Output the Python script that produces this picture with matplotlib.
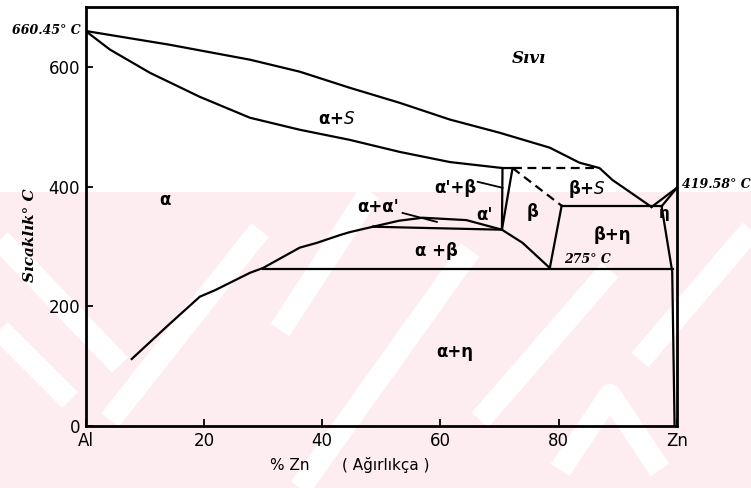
import matplotlib
matplotlib.use("Agg")
import matplotlib.pyplot as plt

# Al-Zn phase diagram, boundaries (wt% Zn, deg C)
liq_x = [0, 14.2, 27.8, 36.2, 44.7, 53.1, 61.6, 70.0, 78.5, 83.5, 86.9, 89.1, 95.7]
liq_t = [660, 637, 612, 592, 565, 540, 512, 490, 465, 440, 431, 411, 366]

sol_x = [0, 4.1, 10.9, 19.3, 27.8, 36.2, 44.7, 53.1, 61.6, 70.5, 72.2]
sol_t = [660, 629, 590, 550, 515, 495, 478, 458, 441, 431, 431]

solv_x = [7.8, 13.7, 19.3, 21.9, 27.8, 30.0, 36.2, 39.1, 43.0, 44.7, 48.6]
solv_t = [112, 166, 216, 227, 256, 264, 298, 306, 319, 324, 333]

dome_up_x = [48.6, 53.0, 57.0, 64.4, 70.4]
dome_up_t = [333, 343, 348, 344, 328]
dome_lo_x = [48.6, 57.0, 70.4]
dome_lo_t = [333, 331, 328]

a1_x, a1_t = [70.5, 70.4], [431, 328]
a2_x, a2_t = [72.2, 70.4], [431, 328]
beta_l_x, beta_l_t = [70.4, 73.9, 78.5], [328, 306, 264]
beta_r_x, beta_r_t = [80.5, 78.5], [368, 264]
dash_d_x, dash_d_t = [72.2, 80.5], [431, 368]
dash_h_x, dash_h_t = [72.2, 86.9], [431, 431]
eut_x, eut_t = [80.5, 97.4], [367, 367]
zn_liq_x, zn_liq_t = [95.7, 100], [366, 398]
zn_sol_x, zn_sol_t = [97.4, 100], [367, 398]
eta_x, eta_t = [97.4, 99.2, 99.6], [367, 258, 0]
eutd_x, eutd_t = [30.0, 99.3], [263, 263]
ptr1_x, ptr1_t = [53.6, 59.4], [356, 341]
ptr2_x, ptr2_t = [66.3, 70.5], [408, 398]

xticks = [0, 20, 40, 60, 80, 100]
xticklabels = ['Al', '20', '40', '60', '80', 'Zn']
yticks = [0, 200, 400, 600]

fig = plt.figure(figsize=(7.51, 4.88), dpi=100)

# faint pink watermark of the scan
bg = fig.add_axes([0, 0, 1, 1], zorder=0)
bg.set_xlim(0, 751)
bg.set_ylim(488, 0)
bg.axis('off')
rect = plt.Rectangle((0, 192), 751, 296, color='#feedf0', lw=0)
bg.add_patch(rect)
bands = [[(0, 240), (120, 365)], [(0, 330), (70, 400)], [(110, 420), (260, 230)],
         [(280, 330), (370, 192)], [(300, 488), (470, 250)], [(480, 420), (610, 270)],
         [(640, 360), (751, 230)], [(560, 470), (610, 395), (660, 470)]]
for b in bands:
    ln, = bg.plot([p[0] for p in b], [p[1] for p in b], color='white', lw=16,
                  solid_capstyle='butt')
    ln.set_clip_path(rect)

ax = fig.add_axes([0.114, 0.127, 0.7874, 0.8586], zorder=1)
ax.patch.set_alpha(0)

lk = dict(color='black', lw=1.6)
ax.plot(liq_x, liq_t, **lk)
ax.plot(sol_x, sol_t, **lk)
ax.plot(solv_x, solv_t, **lk)
ax.plot(dome_up_x, dome_up_t, **lk)
ax.plot(dome_lo_x, dome_lo_t, **lk)
ax.plot(a1_x, a1_t, **lk)
ax.plot(a2_x, a2_t, **lk)
ax.plot(beta_l_x, beta_l_t, **lk)
ax.plot(beta_r_x, beta_r_t, **lk)
ax.plot(dash_d_x, dash_d_t, color='black', lw=1.6, ls=(0, (4, 2.5)))
ax.plot(dash_h_x, dash_h_t, color='black', lw=1.6, ls=(0, (4, 2.5)))
ax.plot(eut_x, eut_t, **lk)
ax.plot(zn_liq_x, zn_liq_t, **lk)
ax.plot(zn_sol_x, zn_sol_t, **lk)
ax.plot(eta_x, eta_t, **lk)
ax.plot(eutd_x, eutd_t, **lk)
ax.plot(ptr1_x, ptr1_t, color='black', lw=1.3)
ax.plot(ptr2_x, ptr2_t, color='black', lw=1.3)

ax.set_xlim(0, 100)
ax.set_ylim(0, 700)
for s in ax.spines.values():
    s.set_linewidth(2)
ax.set_xticks(xticks)
ax.set_xticklabels(xticklabels)
ax.set_yticks(yticks)
ax.tick_params(direction='in', length=5, width=1.3, labelsize=12, pad=4)

# region labels
lab = dict(fontsize=12, ha='center', va='center', fontweight='bold')
ax.text(13.4, 378, 'α', **lab)
ax.text(42.5, 513, 'α+$S$', **lab)
ax.text(62.6, 398, "α'+β", **lab)
ax.text(49.4, 366, "α+α'", **lab)
ax.text(67.5, 353, "α'", **lab)
ax.text(75.6, 358, 'β', **lab)
ax.text(84.7, 396, 'β+$S$', **lab)
ax.text(89.0, 319, 'β+η', **lab)
ax.text(97.9, 355, 'η', fontsize=11, ha='center', va='center', fontweight='bold')
ax.text(59.4, 293, 'α +β', **lab)
ax.text(62.4, 124, 'α+η', **lab)
ax.text(74.9, 614, 'Sıvı', fontsize=12, ha='center', va='center',
        family='DejaVu Serif', fontweight='bold', fontstyle='italic')

tk = dict(family='DejaVu Serif', fontweight='bold', fontstyle='italic', fontsize=9,
          va='center')
ax.text(84.9, 278, '275° C', ha='center', **tk)
ax.text(-0.9, 660, '660.45° C', ha='right', clip_on=False, **tk)
ax.text(100.9, 403, '419.58° C', ha='left', clip_on=False, **tk)

ax.text(-0.094, 0.456, 'Sıcaklık° C', transform=ax.transAxes, rotation=90,
        ha='center', va='center', family='DejaVu Serif', fontweight='bold',
        fontstyle='italic', fontsize=11)

fig.text(0.386, 0.047, '% Zn', ha='center', va='center', fontsize=11)
fig.text(0.513, 0.047, '( Ağırlıkça )', ha='center', va='center', fontsize=11)

fig.savefig('out.png', dpi=100)
